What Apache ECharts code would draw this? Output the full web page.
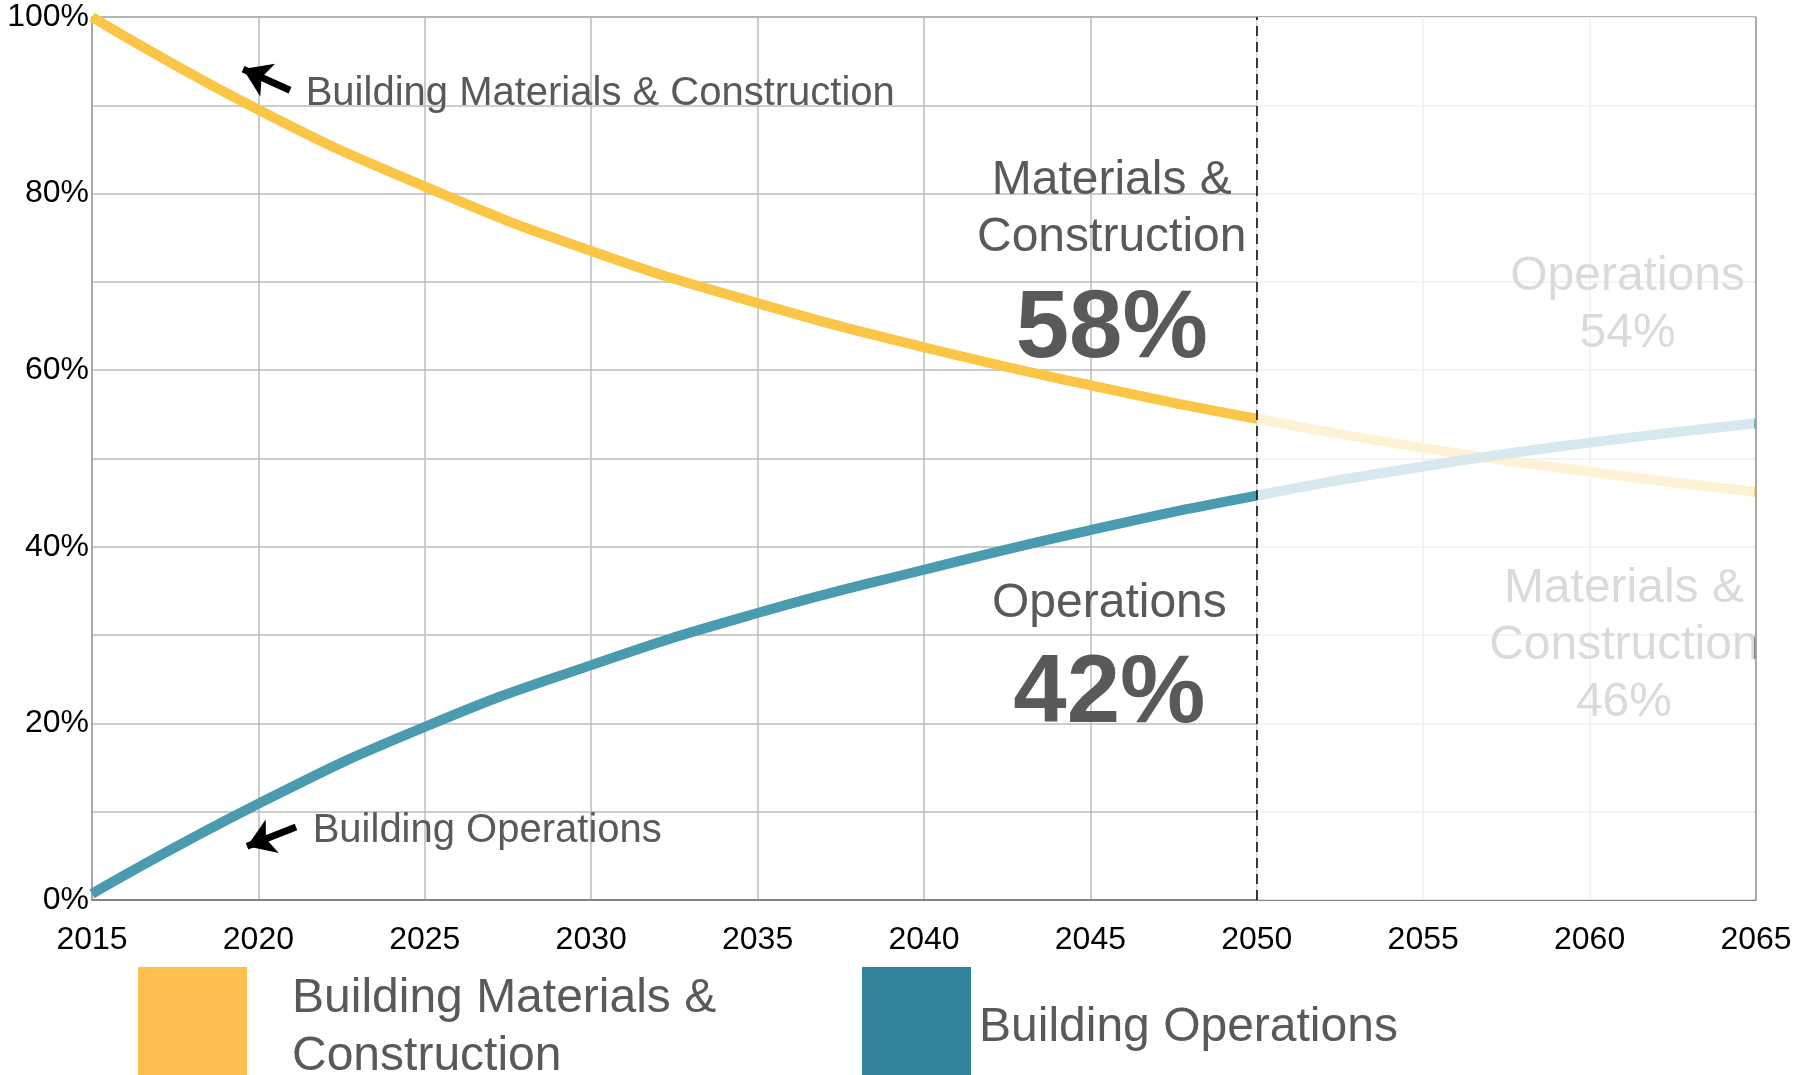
<!DOCTYPE html>
<html>
<head>
<meta charset="utf-8">
<script src="https://cdn.jsdelivr.net/npm/echarts@6/dist/echarts.min.js"></script>
<style>
html,body{margin:0;padding:0;background:#fff;}
#chart{width:1804px;height:1075px;}
</style>
</head>
<body>
<div id="chart"></div>
<script>
// ---- data ----
const years = [2015, 2020, 2025, 2030, 2035, 2040, 2045, 2050, 2055, 2060, 2065];
const materials = [100, 89.5, 80.8, 73.5, 67.6, 62.6, 58.3, 54.5, 51.2, 48.5, 46.2];
const operations = [0.7, 10.9, 19.6, 26.6, 32.5, 37.4, 41.9, 45.8, 49.1, 51.8, 54.0];
const yTickLabels = ['0%', '', '20%', '', '40%', '', '60%', '', '80%', '', '100%'];
const seriesNames = ['Building Materials & Construction', 'Building Operations'];
const splitYear = 2050;
const endYear = 2065;

const matPairs = years.map((y, i) => [y, materials[i]]);
const opsPairs = years.map((y, i) => [y, operations[i]]);

const FONT = '"Liberation Sans", Arial, sans-serif';
const TXT = '#595959';

function textPoint(coord, text, opts) {
  return {
    coord: coord,
    symbolSize: 1,
    itemStyle: { color: 'rgba(0,0,0,0)' },
    label: Object.assign({
      show: true,
      formatter: text,
      position: [0, 0],
      align: 'center',
      verticalAlign: 'middle',
      color: TXT,
      fontFamily: FONT,
      fontSize: 48,
      lineHeight: 57
    }, opts || {})
  };
}

const hGridColors = yTickLabels.map((t, i) => i === yTickLabels.length - 1 ? '#9a9a9a' : '#bdbdbd');

const option = {
  animation: false,
  backgroundColor: '#ffffff',
  textStyle: { fontFamily: FONT },
  grid: { left: 92, right: 48, top: 17, bottom: 175, containLabel: false },
  xAxis: {
    type: 'value',
    min: 2015, max: 2065, interval: 5,
    axisLine: { show: true, lineStyle: { color: '#6e6e6e', width: 1.5 } },
    axisTick: { show: false },
    axisLabel: { color: '#000', fontSize: 32, margin: 24, fontFamily: FONT, formatter: v => String(v) },
    splitLine: { show: true, lineStyle: { color: '#bdbdbd', width: 1.5 } }
  },
  yAxis: {
    type: 'value',
    min: 0, max: 100, interval: 10,
    axisLine: { show: true, lineStyle: { color: '#9a9a9a', width: 1.5 } },
    axisTick: { show: false },
    axisLabel: {
      color: '#000', fontSize: 32, margin: 3, fontFamily: FONT,
      formatter: (v) => yTickLabels[Math.round(v / 10)] || ''
    },
    splitLine: { show: true, lineStyle: { color: hGridColors, width: 1.5 } }
  },
  legend: [
    {
      data: [{ name: seriesNames[0], itemStyle: { color: '#FFBE4F' } }],
      left: 138, top: 967, padding: 0, orient: 'horizontal',
      icon: 'rect', itemWidth: 109, itemHeight: 122,
      itemStyle: { borderWidth: 0 },
      selectedMode: false,
      textStyle: { color: TXT, fontSize: 48, lineHeight: 58, fontFamily: FONT,
                   width: 440, overflow: 'break', padding: [0, 0, 0, 40] }
    },
    {
      data: [{ name: seriesNames[1], itemStyle: { color: '#31849B' } }],
      left: 862, top: 967, padding: 0, orient: 'horizontal',
      icon: 'rect', itemWidth: 109, itemHeight: 122,
      itemStyle: { borderWidth: 0 },
      selectedMode: false,
      textStyle: { color: TXT, fontSize: 48, lineHeight: 58, fontFamily: FONT,
                   padding: [0, 0, 0, 3] }
    }
  ],
  series: [
    {
      name: seriesNames[0],
      type: 'line',
      z: 2,
      data: matPairs,
      smooth: true,
      symbol: 'none',
      color: '#FBC546',
      lineStyle: { color: '#FBC546', width: 10, cap: 'butt' },
      markPoint: {
        silent: true,
        z: 5,
        data: [
          textPoint([2021.43, 91.2], 'Building Materials & Construction', { align: 'left', fontSize: 40 }),
          textPoint([2021.64, 7.7], 'Building Operations', { align: 'left', fontSize: 40 }),
          textPoint([2045.65, 78.1], 'Materials &\nConstruction'),
          textPoint([2045.65, 64.4], '58%', { fontSize: 96, fontWeight: 'bold', lineHeight: 100 }),
          textPoint([2045.58, 33.5], 'Operations'),
          textPoint([2045.58, 23.1], '42%', { fontSize: 96, fontWeight: 'bold', lineHeight: 100 }),
          textPoint([2061.15, 67.2], 'Operations\n54%'),
          textPoint([2061.04, 28.7], 'Materials &\nConstruction\n46%')
        ]
      },
      markLine: {
        silent: true,
        z: 5,
        symbol: ['none', 'arrow'],
        symbolSize: 27,
        label: { show: false },
        lineStyle: { color: '#000', width: 7, type: 'solid' },
        data: [
          [{ coord: [2020.95, 91.7] }, { coord: [2019.54, 94.1] }],
          [{ coord: [2021.13, 8.26] }, { coord: [2019.66, 6.1] }]
        ]
      }
    },
    {
      name: seriesNames[1],
      type: 'line',
      z: 2,
      data: opsPairs,
      smooth: true,
      symbol: 'none',
      color: '#4A9BB0',
      lineStyle: { color: '#4A9BB0', width: 10, cap: 'butt' }
    },
    {
      name: 'overlay',
      type: 'line',
      z: 10,
      data: [],
      markArea: {
        silent: true,
        z: 20,
        itemStyle: { color: 'rgba(255,255,255,0.78)' },
        data: [[{ coord: [splitYear, 0] }, { coord: [endYear - 0.05, 100] }]]
      }
    },
    {
      name: 'guides',
      type: 'line',
      z: 11,
      data: [],
      markLine: {
        silent: true,
        z: 21,
        symbol: ['none', 'none'],
        label: { show: false },
        data: [
          { xAxis: splitYear, lineStyle: { color: '#000', width: 1.5, type: [10, 6] } },
          { xAxis: endYear, lineStyle: { color: '#a0a0a0', width: 1.5, type: 'solid' } }
        ]
      }
    }
  ]
};

const chart = echarts.init(document.getElementById('chart'), null, { renderer: 'canvas' });
chart.setOption(option);
</script>
</body>
</html>
